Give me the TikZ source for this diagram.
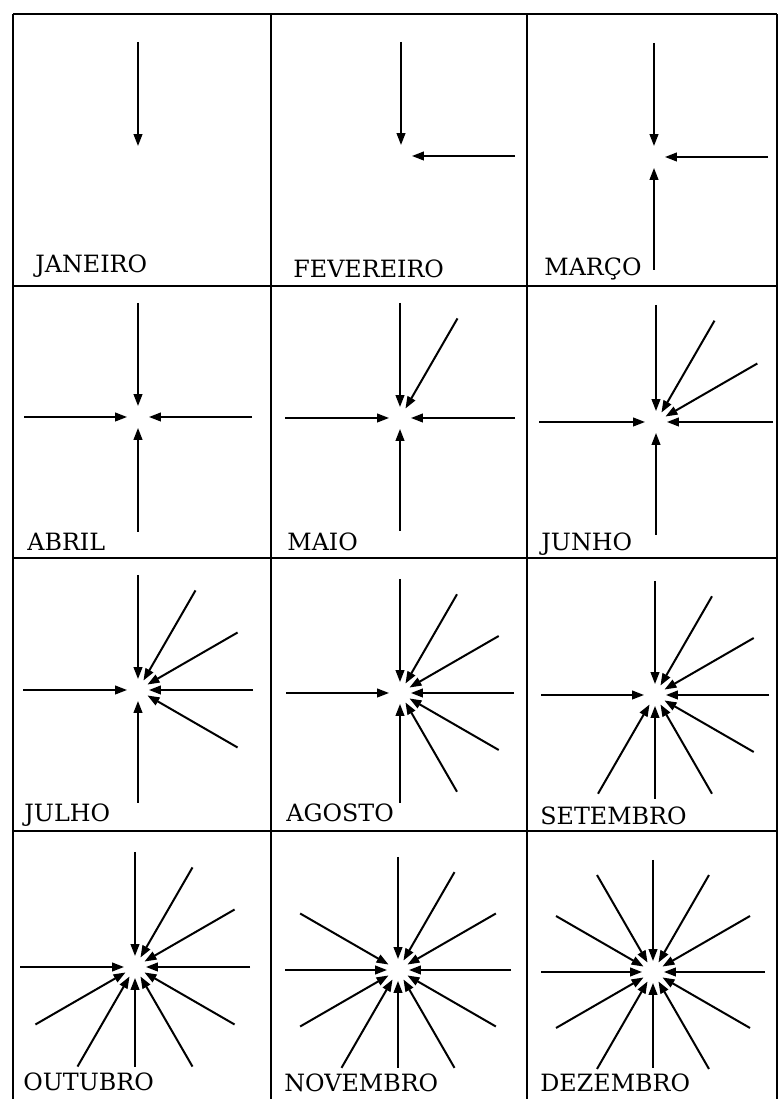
\documentclass[tikz,border=0pt]{standalone}
\usepackage{fontspec}
\setmainfont{DejaVu Serif}
\usepackage{tikz}
\usetikzlibrary{arrows.meta}
\tikzset{
  gridline/.style={line width=1pt},
  hub/.style={circle, minimum size=10.5pt, inner sep=0pt},
  ray/.style={-{Triangle[length=6pt,width=4.3pt]}, line width=1pt},
  month/.style={anchor=base west, inner sep=0pt, font=\fontsize{11.9}{14}\selectfont}
}

\begin{document}
\begin{tikzpicture}[x=0.5pt,y=0.5pt]
  \useasboundingbox (0,0) rectangle (779,1099);
  % grid
  \foreach \gx in {13,271,527,777}
    \draw[gridline] (\gx,0) -- (\gx,1085);
  \foreach \gy in {1085,813,541,268}
    \draw[gridline] (13,\gy) -- (777,\gy);
  % one panel per month: hub, label and rays (\r ray length, \rb the lower one)
  \foreach \lab/\cx/\cy/\lx/\ly/\r/\rb [count=\n] in {
      JANEIRO/138/942/35/826/115/113, FEVEREIRO/401/943/293/821/114/113,
      MARÇO/654/942/544/823/114/113,
      ABRIL/138/682/27/548/114/115, MAIO/400/681/287/548/115/113,
      JUNHO/656/677/541/548/117/113,
      JULHO/138/409/24/277/115/113, AGOSTO/400/406/286/277/114/110,
      SETEMBRO/655/404/540/274/114/104,
      OUTUBRO/135/132/23/9/115/100, NOVEMBRO/398/129/284/7/113/98,
      DEZEMBRO/653/127/540/7/112/96}{
    \node[hub] (m\n) at (\cx,\cy) {};
    \node[month] (t\n) at (\lx,\ly) {\lab};
    \foreach \a [count=\k] in {90,0,270,180,60,30,330,300,240,210,150,120}{
      \ifnum\k>\n\else
        \ifnum\a=270
          \coordinate (m\n-\k) at ([shift={(\a:\rb)}]m\n.center);
        \else
          \coordinate (m\n-\k) at ([shift={(\a:\r)}]m\n.center);
        \fi
        \draw[ray] (m\n-\k) -- (m\n);
      \fi
    }
  }
\end{tikzpicture}
\end{document}
